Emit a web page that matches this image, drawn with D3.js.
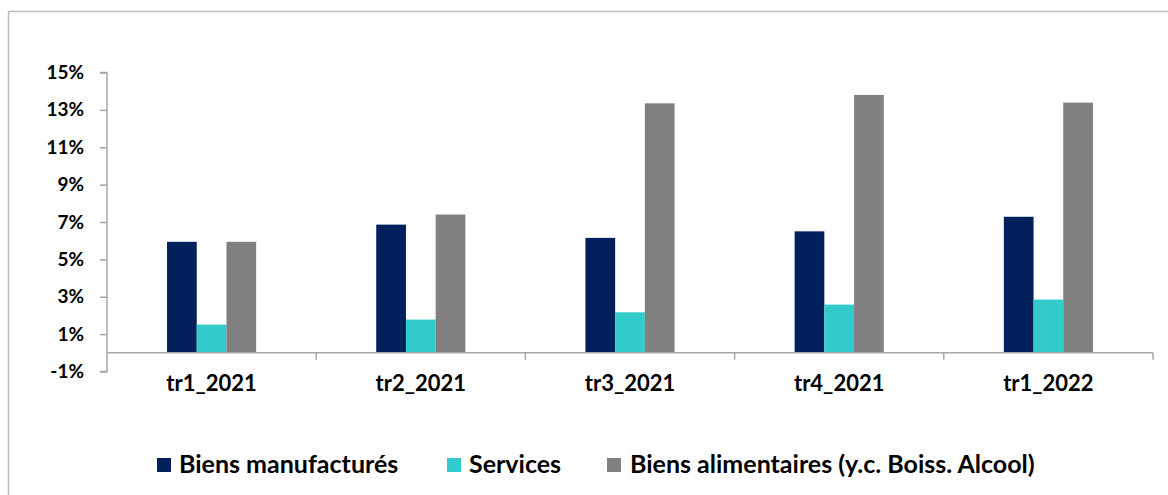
<!DOCTYPE html>
<html>
<head>
<meta charset="utf-8">
<script src="https://cdn.jsdelivr.net/npm/d3@7"></script>
<style>
  html, body { margin: 0; padding: 0; background: #fff; }
  svg { display: block; }
  text { font-family: "Lato", "Liberation Sans", sans-serif; font-weight: 700; fill: #000; }
</style>
</head>
<body>
<svg id="chart" width="1168" height="495"></svg>
<script>
// Quarterly inflation by product group (%)
const categories = ["tr1_2021", "tr2_2021", "tr3_2021", "tr4_2021", "tr1_2022"];
const seriesNames = ["Biens manufacturés", "Services", "Biens alimentaires (y.c. Boiss. Alcool)"];
const biensManufactures = [5.94, 6.86, 6.15, 6.5, 7.28];
const services = [1.51, 1.78, 2.17, 2.58, 2.85];
const biensAlimentaires = [5.94, 7.4, 13.35, 13.8, 13.39];
const yTicks = [-1, 1, 3, 5, 7, 9, 11, 13, 15];
const colors = ["#02205C", "#33CCCC", "#808080"];

const seriesValues = [biensManufactures, services, biensAlimentaires];

const svg = d3.select("#chart");

// outer frame
svg.append("rect")
  .attr("x", 8.5).attr("y", 11.5)
  .attr("width", 1200).attr("height", 520)
  .attr("fill", "none").attr("stroke", "#bdbdbd").attr("stroke-width", 1.5);

const plot = { left: 107, right: 1153, top: 72.5, bottom: 371.5 };

const y = d3.scaleLinear().domain([-1, 15]).range([plot.bottom, plot.top]);
const x = d3.scaleBand().domain(categories).range([plot.left, plot.right]).paddingInner(0).paddingOuter(0);

const groupFrac = 0.426;
const xInner = d3.scaleBand().domain(d3.range(seriesNames.length))
  .range([0, x.bandwidth() * groupFrac]).padding(0);
const groupOffset = x.bandwidth() * (1 - groupFrac) / 2;

// bars
seriesValues.forEach((vals, s) => {
  svg.append("g").selectAll("rect")
    .data(vals)
    .join("rect")
    .attr("x", (d, i) => x(categories[i]) + groupOffset + xInner(s))
    .attr("width", xInner.bandwidth())
    .attr("y", d => y(Math.max(0, d)))
    .attr("height", d => Math.abs(y(d) - y(0)))
    .attr("fill", colors[s]);
});

const axisColor = "#a6a6a6";

// y axis
const yAxis = svg.append("g")
  .attr("transform", `translate(${plot.left},0)`)
  .call(d3.axisLeft(y).tickValues(yTicks).tickFormat(d => d + "%").tickSize(7).tickPadding(16));
yAxis.select(".domain").attr("stroke", axisColor).attr("stroke-width", 1.5)
  .attr("d", `M-7,${y(15)}H0V${y(-1)}H-7`);
yAxis.selectAll(".tick line").attr("stroke", axisColor).attr("stroke-width", 1.5);
yAxis.selectAll(".tick text")
  .style("font-family", "Lato, sans-serif").style("font-weight", 700)
  .style("font-size", "19px").attr("fill", "#000");

// x axis at zero with boundary ticks
const xAxisG = svg.append("g").attr("transform", `translate(0,${y(0)})`);
xAxisG.append("line")
  .attr("x1", plot.left).attr("x2", plot.right)
  .attr("stroke", axisColor).attr("stroke-width", 1.5);
const boundaries = categories.slice(1).map(c => x(c)).concat([plot.right]);
xAxisG.selectAll("line.tick")
  .data(boundaries)
  .join("line")
  .attr("class", "tick")
  .attr("x1", d => d).attr("x2", d => d)
  .attr("y1", 0).attr("y2", 7)
  .attr("stroke", axisColor).attr("stroke-width", 1.5);

// category labels
svg.append("g").selectAll("text")
  .data(categories)
  .join("text")
  .attr("x", d => x(d) + x.bandwidth() / 2)
  .attr("y", 391)
  .attr("text-anchor", "middle")
  .style("font-size", "22px")
  .text(d => d);

// legend
const legendItems = [
  { sq: 157, tx: 179 },
  { sq: 447, tx: 469 },
  { sq: 607, tx: 630 }
];
const legend = svg.append("g");
seriesNames.forEach((name, i) => {
  legend.append("rect")
    .attr("x", legendItems[i].sq).attr("y", 458)
    .attr("width", 14).attr("height", 14)
    .attr("fill", colors[i]);
  legend.append("text")
    .attr("x", legendItems[i].tx).attr("y", 473)
    .style("font-size", "25px")
    .text(name);
});
</script>
</body>
</html>
